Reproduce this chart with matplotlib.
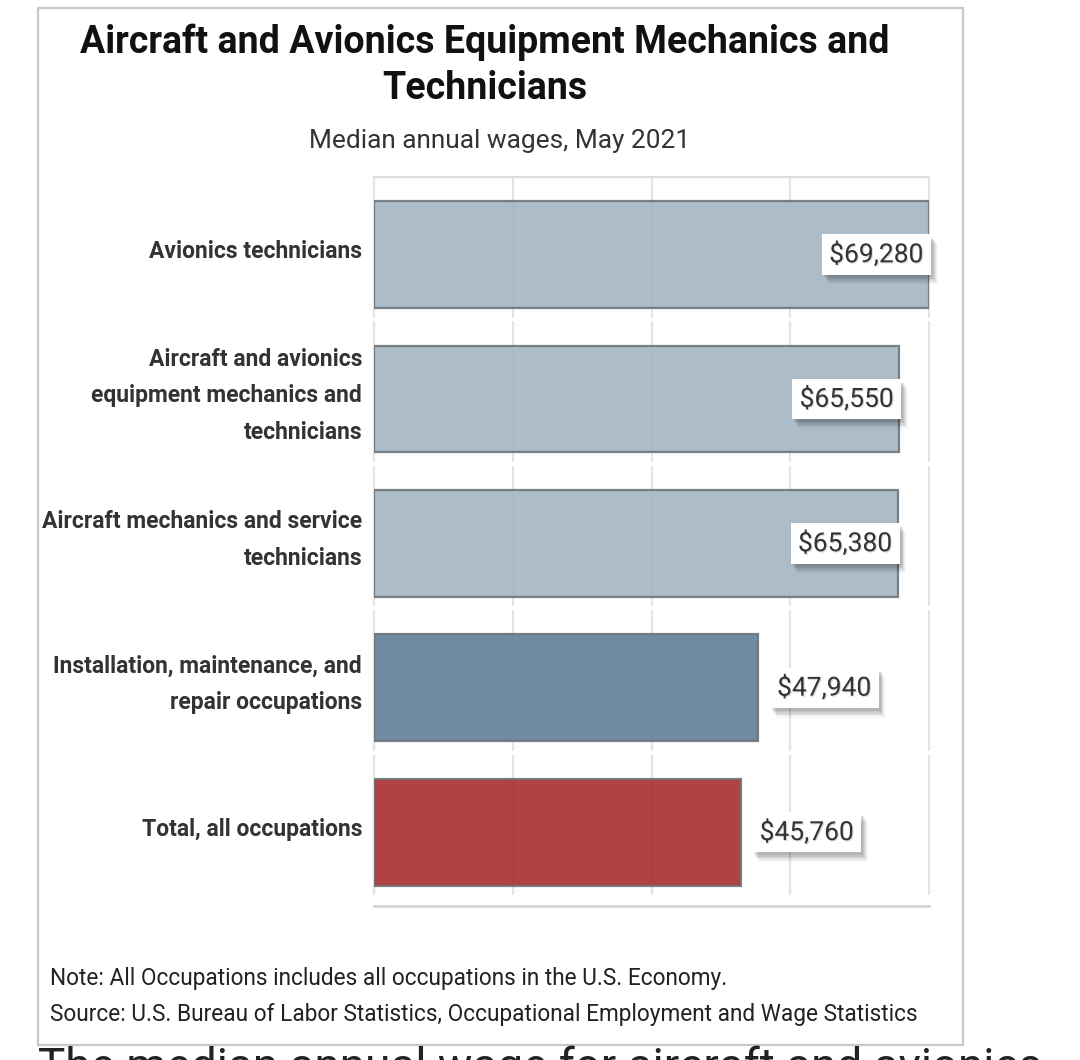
import matplotlib
matplotlib.use("Agg")
import matplotlib.pyplot as plt
import matplotlib.patheffects as pe
from matplotlib.patches import Rectangle

# ---- data ----
categories = [
    "Avionics technicians",
    "Aircraft and avionics\nequipment mechanics and\ntechnicians",
    "Aircraft mechanics and service\ntechnicians",
    "Installation, maintenance, and\nrepair occupations",
    "Total, all occupations",
]
wages = [69280, 65550, 65380, 47940, 45760]
value_labels = ["$69,280", "$65,550", "$65,380", "$47,940", "$45,760"]
bar_colors = ["#a3b6c3", "#a3b6c3", "#a3b6c3", "#617f99", "#aa2c2e"]
title = "Aircraft and Avionics Equipment Mechanics and\nTechnicians"
subtitle = "Median annual wages, May 2021"
note = "Note: All Occupations includes all occupations in the U.S. Economy."
source = "Source: U.S. Bureau of Labor Statistics, Occupational Employment and Wage Statistics"
below_text = "The median annual wage for aircraft and avionics"

plt.rcParams['font.family'] = ['Roboto', 'DejaVu Sans']

W, H = 1080, 1060
fig = plt.figure(figsize=(W / 100, H / 100), dpi=100)
fig.patch.set_facecolor("white")

def fx(px):
    return px / W

def fy(py):
    return 1 - py / H

# outer frame
fig.patches.append(Rectangle((fx(38), fy(1045)), fx(963) - fx(38), fy(8) - fy(1045),
                             transform=fig.transFigure, fill=False,
                             edgecolor="#c8c8c8", linewidth=1.6, zorder=0))

# title / subtitle
fig.text(fx(485), fy(65), title, ha="center", va="center", fontsize=27,
         fontweight="bold", color="#111111", linespacing=1.32)
fig.text(fx(500), fy(141), subtitle, ha="center", va="center", fontsize=18.9,
         color="#333333")

# notes
fig.text(fx(50), fy(979), note, ha="left", va="center", fontsize=16.3, color="#222222")
fig.text(fx(50), fy(1014), source, ha="left", va="center", fontsize=16.3, color="#222222")
fig.text(fx(38), fy(1081), below_text, ha="left", va="baseline", fontsize=33,
         color="#222222")

# axes
ax = fig.add_axes([fx(374), fy(906), fx(929) - fx(374), fy(177) - fy(906)])
n = len(wages)
xmax = max(wages)
ax.set_xlim(0, xmax)
ytop, ybot = -0.537, (n - 1) + 0.51
ax.set_ylim(ybot, ytop)
ax.axis("off")

# segmented vertical gridlines (one segment per row)
ticks = [xmax * k / 4 for k in range(5)]
for i in range(n):
    for t in ticks:
        ax.plot([t, t], [i - 0.537, i + 0.436], color="#e4e4e4", lw=1.6,
                zorder=1, solid_capstyle="butt", clip_on=False)
ax.plot([0, xmax], [ytop, ytop], color="#dedede", lw=1.6, zorder=1, clip_on=False)
ax.plot([0, xmax], [ybot, ybot], color="#d8d8d8", lw=2.2, zorder=1, clip_on=False)

ypos = list(range(n))
ax.barh(ypos, wages, height=0.74, color=bar_colors, alpha=0.9,
        edgecolor="#6e7479", linewidth=1.6, zorder=2)

# category labels
for i, lab in enumerate(categories):
    ax.annotate(lab, xy=(0, i), xycoords=("axes fraction", "data"),
                xytext=(-8.6, 2.4), textcoords="offset points",
                ha="right", va="center", multialignment="right",
                fontsize=16.5, fontweight="bold", color="#333333",
                linespacing=1.75, annotation_clip=False)

# value labels with shadowed boxes
px_per_unit = (929 - 374) / xmax
label_room = 120 / px_per_unit
for i, (v, lab) in enumerate(zip(wages, value_labels)):
    inside = v + label_room > xmax
    if inside:
        off, ha = (-4.0, 0), "right"
    else:
        off, ha = (13.7, 0), "left"
    t = ax.annotate(lab, xy=(v, i), xytext=off, textcoords="offset points",
                    ha=ha, va="center", fontsize=19, color="#333333", zorder=5,
                    bbox=dict(boxstyle="square,pad=0.28", fc="white", ec="none"),
                    annotation_clip=False)
    t.set_path_effects([pe.SimplePatchShadow(offset=(0.8, -0.8), shadow_rgbFace="#000000",
                                             alpha=0.15), pe.Normal()])
    bp = t.get_bbox_patch()
    effects = []
    for k, a in [(7, 0.03), (6, 0.04), (5, 0.05), (4, 0.06), (3, 0.07), (2, 0.07)]:
        effects.append(pe.SimplePatchShadow(offset=(k * 0.7, -k), shadow_rgbFace="#000000",
                                            alpha=a))
    effects.append(pe.Normal())
    bp.set_path_effects(effects)

fig.savefig("out.png", dpi=100, facecolor="white")
